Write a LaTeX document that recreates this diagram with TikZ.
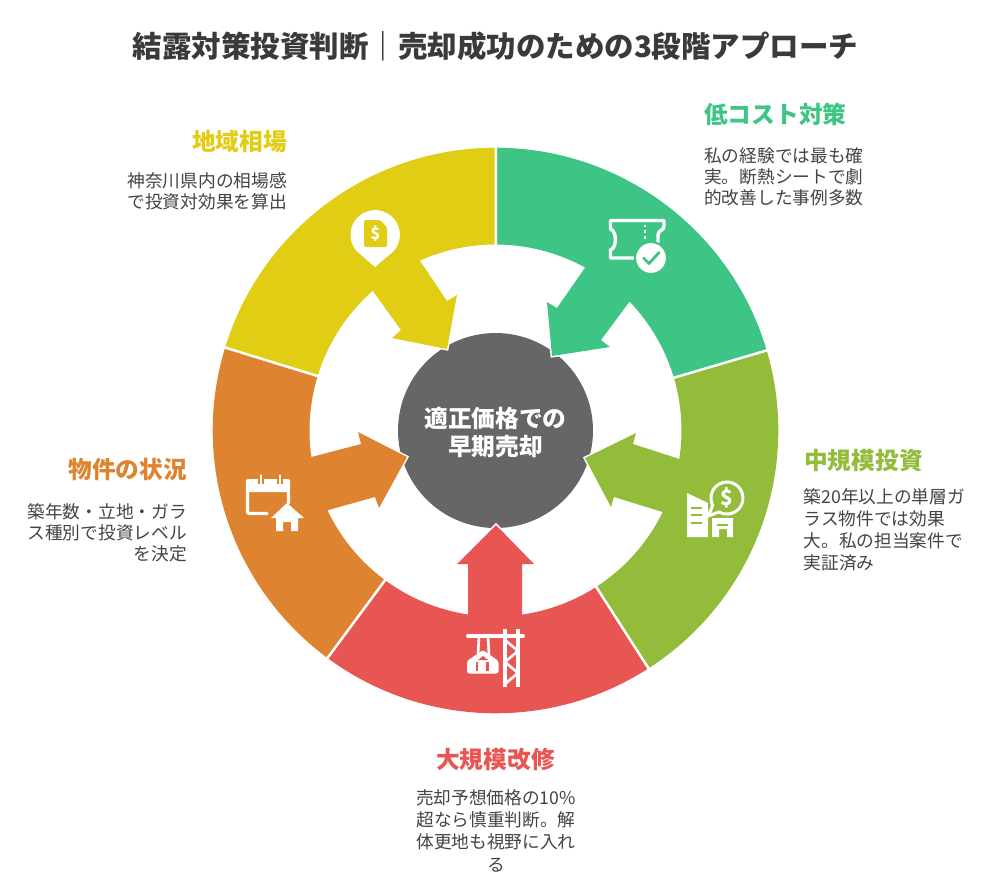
\documentclass[tikz,border=0pt]{standalone}
\usepackage{fontspec}
\setmainfont{Noto Sans CJK JP}
\definecolor{cyel}{HTML}{E0CD14}
\definecolor{cgrn}{HTML}{3EC585}
\definecolor{clim}{HTML}{93BC3B}
\definecolor{cred}{HTML}{E85654}
\definecolor{cora}{HTML}{DE832F}
\definecolor{cgry}{HTML}{666666}
\definecolor{ctxt}{HTML}{444444}
\definecolor{ctit}{HTML}{3A3A3A}
\tikzset{
  wedge/.style={preaction={draw=white,line width=3pt}},
  divider/.style={draw=white,line width=2pt},
  headtext/.style={inner sep=0pt,font=\fontsize{23.7}{28}\selectfont\bfseries},
  bodytext/.style={inner sep=0pt,text=ctxt,font=\fontsize{17.7}{21.2}\selectfont},
  iconline/.style={draw=white,line width=3.4pt,line cap=round,line join=round},
}
\begin{document}
\begin{tikzpicture}[x=1pt,y=1pt,yscale=-1]
\useasboundingbox (0,0) rectangle (1000,895);
\fill[white] (0,0) rectangle (1000,895);
\node[inner sep=0pt,text=ctit,font=\fontsize{29.5}{34}\selectfont\bfseries] (title) at (495.5,46) {結露対策投資判断｜売却成功のための3段階アプローチ};

\begin{scope}[shift={(495.5,430.5)}]
\fill[cgry] (0,0) circle[radius=97.5pt];
% green
\path[wedge,fill=cgrn] (-90:282.8) arc[start angle=-90,end angle=-16.4,radius=282.8pt]
  -- (-16.4:186) arc[start angle=-16.4,end angle=-43.9,radius=186pt]
  -- (105.5,-90.5) -- (114.5,-83.5) -- (56.5,-74.5) -- (51.5,-128.5) -- (61.5,-122.5)
  -- (-61.2:186) arc[start angle=-61.2,end angle=-90,radius=186pt] -- cycle;
% lime
\path[wedge,fill=clim] (-16.4:282.8) arc[start angle=-16.4,end angle=57.3,radius=282.8pt]
  -- (57.3:186) arc[start angle=57.3,end angle=26,radius=186pt]
  -- (118.5,66.5) -- (115.5,76.5) -- (89.5,27.5) -- (140.5,2.5) -- (137.5,13.5)
  -- (8.8:186) arc[start angle=8.8,end angle=-16.4,radius=186pt] -- cycle;
% red
\path[wedge,fill=cred] (57.3:282.8) arc[start angle=57.3,end angle=126.5,radius=282.8pt]
  -- (126.5:186) arc[start angle=126.5,end angle=98.5,radius=186pt]
  -- (-27.5,133.5) -- (-38.5,133.5) -- (0.5,94.5) -- (38.5,133.5) -- (26.5,133.5)
  -- (81.8:186) arc[start angle=81.8,end angle=57.3,radius=186pt] -- cycle;
% orange
\path[wedge,fill=cora] (126.5:282.8) arc[start angle=126.5,end angle=197.1,radius=282.8pt]
  -- (197.1:186) arc[start angle=197.1,end angle=171.8,radius=186pt]
  -- (-134.5,13.5) -- (-137.5,1.5) -- (-88.5,26.5) -- (-116.5,77.5) -- (-120.5,66.5)
  -- (154.6:186) arc[start angle=154.6,end angle=126.5,radius=186pt] -- cycle;
% yellow
\path[wedge,fill=cyel] (197.1:282.8) arc[start angle=197.1,end angle=270,radius=282.8pt]
  -- (270:186) arc[start angle=270,end angle=246,radius=186pt]
  -- (-48.5,-129.5) -- (-38.5,-135.5) -- (-48.5,-81.5) -- (-103.5,-92.5) -- (-94.5,-100.5)
  -- (228.7:186) arc[start angle=228.7,end angle=197.1,radius=186pt] -- cycle;
% dividers
\draw[divider] (-90:185) -- (-90:285) (-16.4:185) -- (-16.4:285) (57.3:185) -- (57.3:285)
  (126.5:185) -- (126.5:285) (197.1:185) -- (197.1:285);
\end{scope}

\node[inner sep=0pt,text=white,align=center,font=\fontsize{23.7}{28}\selectfont\bfseries] (hub) at (495.5,433) {適正価格での\\早期売却};

% yellow icon: pin with document
\fill[white] (375,267) -- (356.5,251) arc[start angle=139,end angle=401,radius=24.7pt] -- cycle;
\fill[cyel,rounded corners=1.5pt] (364,220) -- (380,220) -- (387,227) -- (387,247) -- (364,247) -- cycle;
\node[inner sep=0pt,text=white,font=\fontsize{16}{16}\selectfont\bfseries] (pindollar) at (375.5,234) {\$};

% green icon: ticket with check
\draw[iconline] (664,226.5) -- (664,220.5) -- (610.5,220.5) -- (610.5,229) .. controls (617,231) and (617,248) .. (610.5,250) -- (610.5,258) -- (635,258);
\draw[iconline] (664,226.5) .. controls (664,231) and (658,229) .. (658,236) -- (658,243);
\draw[white,line width=2.8pt,dash pattern=on 2.8pt off 2.8pt] (645,224.5) -- (645,240);
\filldraw[fill=white,draw=cgrn,line width=2pt] (651,258) circle[radius=16pt];
\draw[cgrn,line width=2.8pt,line cap=round,line join=round] (643.5,258) -- (649,263.5) -- (659,252.5);

% lime icon: buildings with bubble
\fill[white] (687,493) -- (708,503) -- (708,537) -- (687,537) -- cycle;
\draw[clim,line width=2pt] (691,508) -- (702,508) (691,515) -- (702,515) (691,523) -- (702,523);
\fill[white] (712,518) -- (733,518) -- (733,537) -- (727,537) -- (727,529) -- (719,529) -- (719,537) -- (712,537) -- cycle;
\draw[clim,line width=1.5pt] (717,525) -- (728,525);
\filldraw[fill=clim,draw=white,line width=3pt,line join=round] (712.7,505.3) arc[start angle=153,end angle=480,radius=16pt] -- (708.5,516) -- cycle;
\node[inner sep=0pt,text=white,font=\fontsize{21}{21}\selectfont\bfseries] (bubbledollar) at (727,498) {\$};

% red icon: crane
\draw[white,line width=3.8pt,line cap=round] (468,636) -- (523,636);
\draw[white,line width=3.4pt] (505,629) -- (505,687) (518,629) -- (518,687);
\draw[white,line width=2.6pt,line join=round] (505,640) -- (518,651) -- (505,662) -- (518,673) -- (505,684);
\draw[white,line width=2.6pt] (479,636) -- (478,655) (488,636) -- (489,655);
\fill[white,rounded corners=2.5pt] (483,650) -- (498.5,661) -- (498.5,673.5) -- (467,673.5) -- (467,661) -- cycle;
\draw[cred,line width=2.4pt] (477,662) -- (477,671) (487.5,662) -- (487.5,671);
\fill[cred] (483,656) -- (488,660) -- (478,660) -- cycle;

% orange icon: calendar with house
\fill[white,rounded corners=2pt] (246,479) -- (290,479) -- (290,492) -- (246,492) -- cycle;
\draw[iconline,rounded corners=2pt] (288.5,492) -- (288.5,503) (247.5,482) -- (247.5,513.5) -- (267,513.5);
\draw[cora,line width=6pt] (261,475) -- (261,484) (280,475) -- (280,484);
\draw[white,line width=2.8pt,line cap=round] (261,475.5) -- (261,483.5) (280,475.5) -- (280,483.5);
\fill[white] (287,503) -- (304,518) -- (298,518) -- (298,531) -- (291,531) -- (291,522) -- (283,522) -- (283,531) -- (276,531) -- (276,518) -- (271,518) -- cycle;

% labels
\node[headtext,text=cgrn,anchor=west] (lbl1) at (704,114) {低コスト対策};
\node[bodytext,align=left,anchor=north west] (txt1) at (704,147.5) {私の経験では最も確\\実。断熱シートで劇\\的改善した事例多数};

\node[headtext,text=clim,anchor=west] (lbl2) at (804,461) {中規模投資};
\node[bodytext,align=left,anchor=north west,font=\fontsize{17.7}{22}\selectfont] (txt2) at (803.5,488) {築20年以上の単層ガ\\ラス物件では効果\\大。私の担当案件で\\実証済み};

\node[headtext,text=cred] (lbl3) at (495.5,760) {大規模改修};
\node[bodytext,align=center,anchor=north,font=\fontsize{17.7}{22.3}\selectfont] (txt3) at (496,789) {売却予想価格の10\%\\超なら慎重判断。解\\体更地も視野に入れ\\る};

\node[headtext,text=cora,anchor=east] (lbl4) at (187,469) {物件の状況};
\node[bodytext,align=right,anchor=north east] (txt4) at (187,503) {築年数・立地・ガラ\\ス種別で投資レベル\\を決定};

\node[headtext,text=cyel,anchor=east] (lbl5) at (287,142) {地域相場};
\node[bodytext,align=right,anchor=north east] (txt5) at (287,172) {神奈川県内の相場感\\で投資対効果を算出};
\end{tikzpicture}
\end{document}
